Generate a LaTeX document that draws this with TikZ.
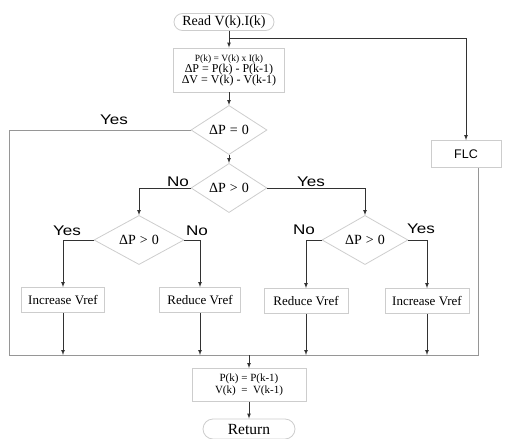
\documentclass[tikz,border=0pt]{standalone}
\usepackage{fontspec}
\setmainfont{Liberation Serif}
\newfontfamily\arialfont{Liberation Sans}
\newfontfamily\widefont[FakeStretch=1.22]{Liberation Sans}
\usetikzlibrary{arrows,shapes,calc}
\definecolor{edge}{RGB}{205,205,205}
\definecolor{wire}{RGB}{50,50,50}
\definecolor{frame}{RGB}{150,150,150}
\newcommand{\gap}{\hspace{4pt}}

\begin{document}
\begin{tikzpicture}[x=1pt,y=-1pt,
    box/.style={draw=edge, line width=0.8pt, inner sep=0pt, align=center},
    test/.style={draw=edge, line width=0.8pt, diamond, inner sep=0pt, minimum width=76pt, minimum height=43pt, font=\fontsize{14}{16}\selectfont},
    term/.style={draw=edge, line width=0.8pt, rounded rectangle, inner sep=0pt},
    arr/.style={->, >=latex, draw=wire, line width=0.7pt},
    wire/.style={draw=frame, line width=0.7pt},
    lab/.style={font=\widefont\fontsize{14}{16}\selectfont}]
  \useasboundingbox (0,0) rectangle (509,439);

  % start, first block, FLC branch
  \node[term, minimum width=100pt, minimum height=17pt, font=\fontsize{14}{16}\selectfont] at (224,22) (read) {Read V(k).I(k)};
  \node[box, minimum width=111pt, minimum height=44pt] at (229,70) (calc)
    {{\fontsize{9.5}{11}\selectfont P(k) = V(k) x I(k)}\\[-1pt]
     {\fontsize{12}{11}\selectfont ΔP = P(k) - P(k-1)}\\[-1pt]
     {\fontsize{12}{11}\selectfont ΔV = V(k) - V(k-1)}};
  \node[box, minimum width=70pt, minimum height=27pt, font=\arialfont\fontsize{12.5}{14}\selectfont] at (466,154) (flc) {FLC};
  \coordinate (split) at ($(calc.north)+(0,-9)$);

  % decisions
  \node[test] at (229,130) (dp0) {ΔP\gap=\gap0};
  \node[test] at (229,188) (dpa) {ΔP\gap>\gap0};
  \node[test, minimum width=90pt] at (139,240) (dpl) {ΔP\gap>\gap0};
  \node[test, minimum width=86pt] at (365,240) (dpr) {ΔP\gap>\gap0};

  % actions
  \node[box, minimum width=83pt, minimum height=25pt, font=\fontsize{13}{15}\selectfont] at (63,300) (inc1) {Increase Vref};
  \node[box, minimum width=81pt, minimum height=25pt, font=\fontsize{13}{15}\selectfont] at (200,300) (red1) {Reduce Vref};
  \node[box, minimum width=84pt, minimum height=25pt, font=\fontsize{13}{15}\selectfont] at (306,301) (red2) {Reduce Vref};
  \node[box, minimum width=84pt, minimum height=25pt, font=\fontsize{13}{15}\selectfont] at (427,301) (inc2) {Increase Vref};

  % end
  \node[box, minimum width=114pt, minimum height=33pt, font=\fontsize{11}{12}\selectfont] at (249,385) (keep)
    {P(k) = P(k-1)\\V(k) \ = \ V(k-1)};
  \node[term, minimum width=92pt, minimum height=20pt, font=\fontsize{15.5}{17}\selectfont] at (249,429) (ret) {Return};
  \coordinate (bl) at (9,355);
  \coordinate (br) at (478,355);

  % labels
  \node[lab] at (114,120) (y0) {Yes};
  \node[lab] at (178,182) (na) {No};
  \node[lab] at (311,182) (ya) {Yes};
  \node[lab] at (67,231) (yl) {Yes};
  \node[lab] at (197,231) (nl) {No};
  \node[lab] at (304,230) (nr) {No};
  \node[lab] at (421,229) (yr) {Yes};

  % connectors
  \draw[arr] (read.south -| calc.north) -- (calc.north);
  \draw[arr] (split) -| (flc.north);
  \draw[arr] (calc.south) -- (dp0.north);
  \draw[arr] (dp0.south) -- (dpa.north);
  \draw[arr] (dpa.west) -| (dpl.north);
  \draw[arr] (dpa.east) -| (dpr.north);
  \draw[arr] (dpl.west) -| (inc1.north);
  \draw[arr] (dpl.east) -| (red1.north);
  \draw[arr] (dpr.west) -| (red2.north);
  \draw[arr] (dpr.east) -| (inc2.north);
  \draw[wire] (dp0.west) -| (bl) -- (br) -- (br |- flc.south);
  \foreach \n in {inc1,red1,red2,inc2}
    \draw[arr] (\n.south) -- (\n.south |- bl);
  \draw[arr] (keep.north |- bl) -- (keep.north);
  \draw[arr] (keep.south) -- (ret.north);
\end{tikzpicture}
\end{document}
